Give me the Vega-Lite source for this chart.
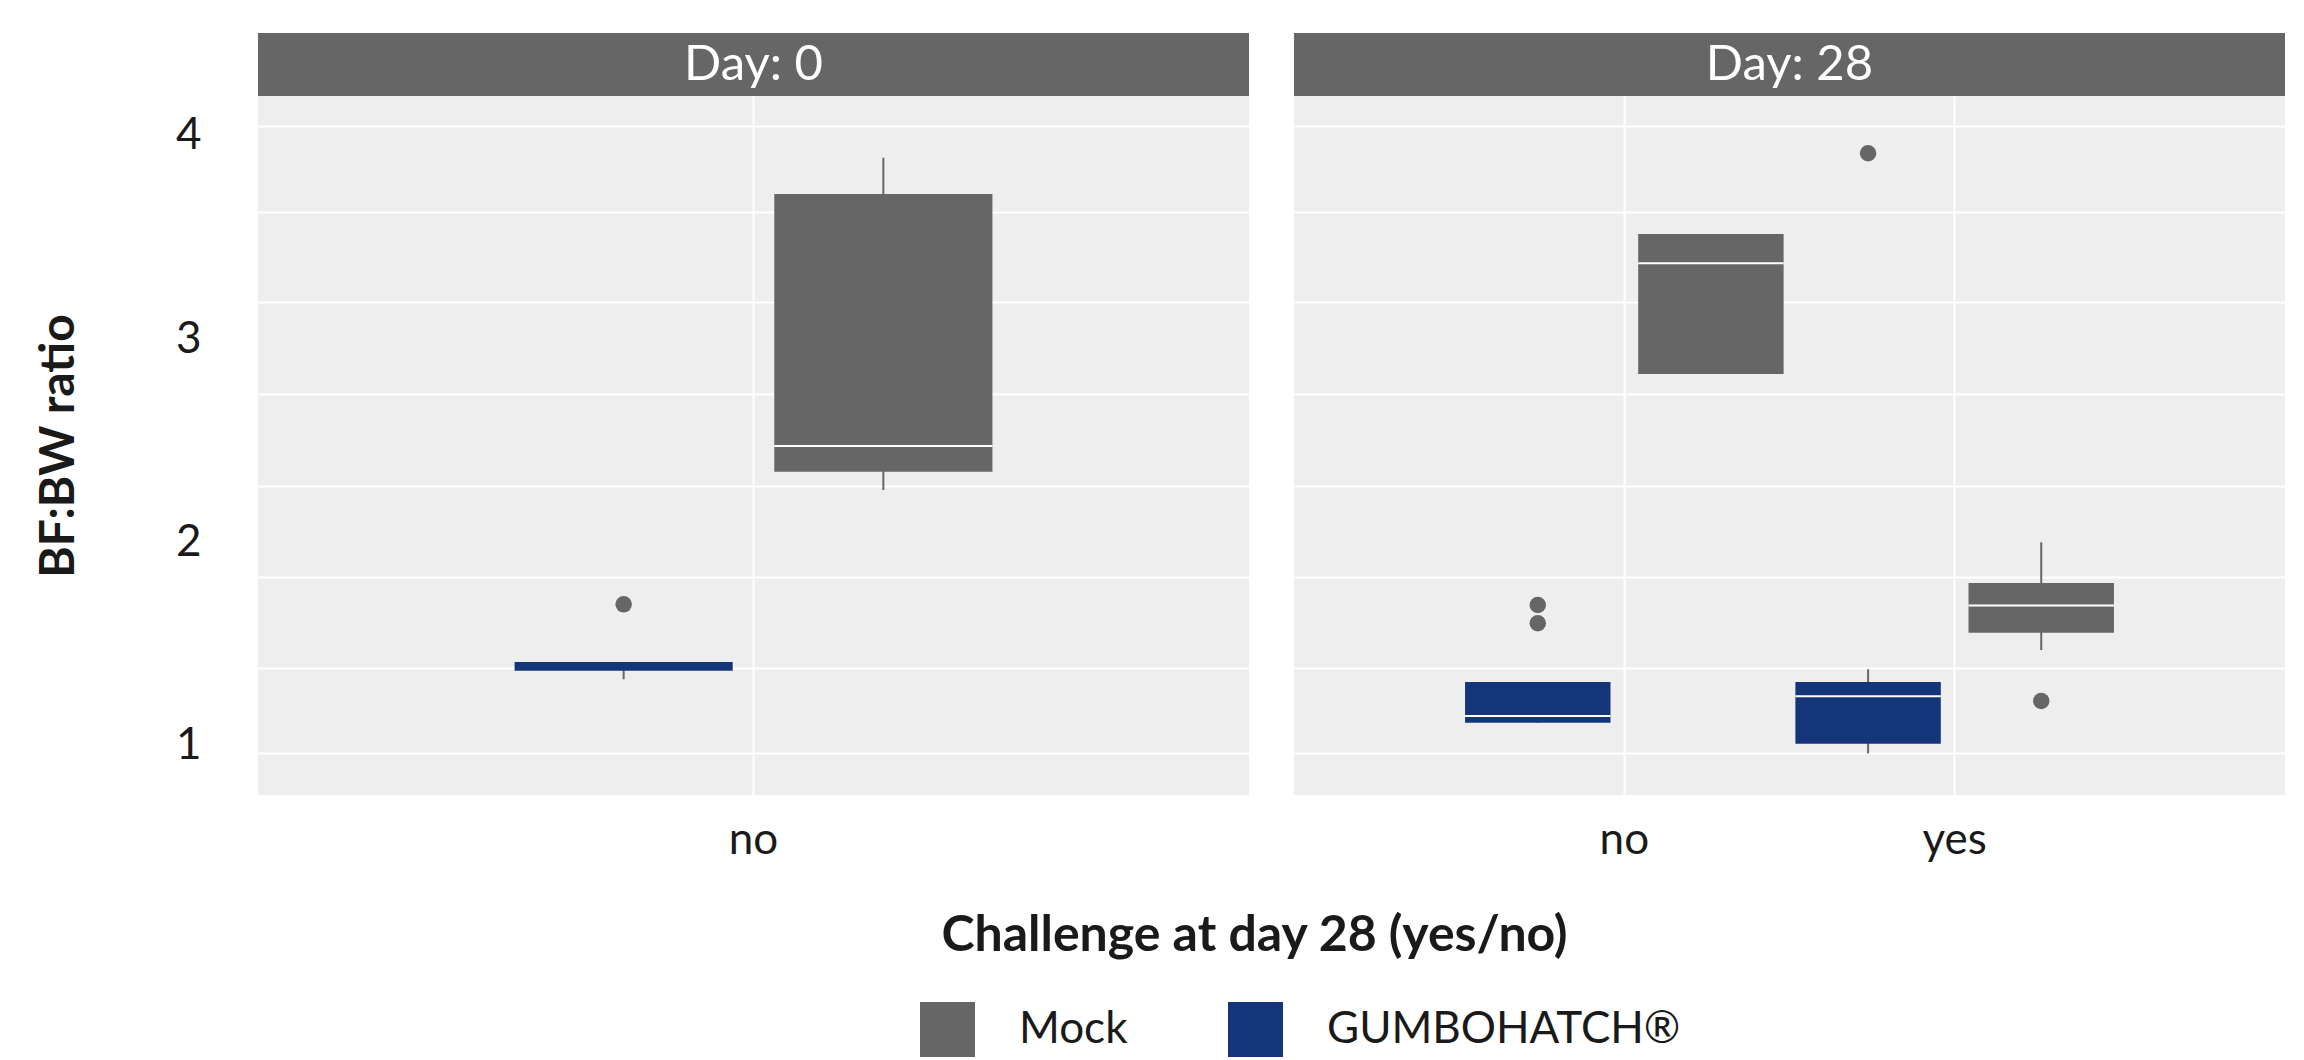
{
  "$schema": "https://vega.github.io/schema/vega-lite/v6.json",
  "background": "white",
  "padding": {"left": 35, "top": 33, "right": 10, "bottom": 0},
  "config": {
    "font": "Lato",
    "view": {"fill": "#EEEEEE", "stroke": null},
    "axis": {"labelFont": "Lato", "titleFont": "Lato", "labelColor": "#1a1a1a", "titleColor": "#1a1a1a"},
    "legend": {"labelFont": "Lato"}
  },
  "datasets": {
    "strips": [{"Day": "Day: 0"}, {"Day": "Day: 28"}],
    "boxes": [
      {"Day": "Day: 0", "chal": "no", "group": "GUMBOHATCH®", "lower": 1.324, "q1": 1.366, "median": null, "q3": 1.409, "upper": 1.409},
      {"Day": "Day: 0", "chal": "no", "group": "Mock", "lower": 2.256, "q1": 2.346, "median": 2.473, "q3": 3.714, "upper": 3.893},
      {"Day": "Day: 28", "chal": "no", "group": "GUMBOHATCH®", "lower": 1.11, "q1": 1.11, "median": 1.143, "q3": 1.31, "upper": 1.31},
      {"Day": "Day: 28", "chal": "no", "group": "Mock", "lower": 2.828, "q1": 2.828, "median": 3.373, "q3": 3.517, "upper": 3.517},
      {"Day": "Day: 28", "chal": "yes", "group": "GUMBOHATCH®", "lower": 0.959, "q1": 1.006, "median": 1.241, "q3": 1.31, "upper": 1.373},
      {"Day": "Day: 28", "chal": "yes", "group": "Mock", "lower": 1.468, "q1": 1.553, "median": 1.688, "q3": 1.798, "upper": 1.999}
    ],
    "outliers": [
      {"Day": "Day: 0", "chal": "no", "group": "GUMBOHATCH®", "value": 1.693},
      {"Day": "Day: 28", "chal": "no", "group": "GUMBOHATCH®", "value": 1.69},
      {"Day": "Day: 28", "chal": "no", "group": "GUMBOHATCH®", "value": 1.6},
      {"Day": "Day: 28", "chal": "yes", "group": "GUMBOHATCH®", "value": 3.915},
      {"Day": "Day: 28", "chal": "yes", "group": "Mock", "value": 1.217}
    ]
  },
  "spacing": 0,
  "vconcat": [
    {
      "bounds": "flush",
      "spacing": 45,
      "hconcat": [
        {
          "width": 991, "height": 63,
          "view": {"fill": "#666666", "stroke": null},
          "data": {"name": "strips"},
          "transform": [{"filter": "datum.Day === 'Day: 0'"}],
          "mark": {"type": "text", "color": "white", "fontSize": 49, "font": "Lato", "baseline": "middle", "align": "center"},
          "encoding": {"text": {"field": "Day", "type": "nominal"}}
        },
        {
          "width": 991, "height": 63,
          "view": {"fill": "#666666", "stroke": null},
          "data": {"name": "strips"},
          "transform": [{"filter": "datum.Day === 'Day: 28'"}],
          "mark": {"type": "text", "color": "white", "fontSize": 49, "font": "Lato", "baseline": "middle", "align": "center"},
          "encoding": {"text": {"field": "Day", "type": "nominal"}}
        }
      ]
    },
    {
      "bounds": "flush",
      "spacing": 45,
      "resolve": {"scale": {"x": "independent", "xOffset": "independent"}},
      "hconcat": [
        {
          "width": 991, "height": 699,
          "data": {"name": "boxes"},
          "transform": [{"filter": "datum.Day === 'Day: 0'"}],
          "resolve": {"axis": {"y": "independent"}},
          "layer": [
            {
              "mark": {"type": "rule", "color": "#666666", "strokeWidth": 2},
              "encoding": {
                "x": {"field": "chal", "type": "nominal", "scale": {"domain": ["no"], "paddingInner": 0, "paddingOuter": 0.5},
                  "axis": {"title": "Challenge at day 28 (yes/no)", "titleFontSize": 50, "titleFontWeight": "bold", "titleX": 996, "titleY": 155, "titleBaseline": "alphabetic", "titleAlign": "center", "labelFontSize": 44, "labelPadding": 23, "labelAngle": 0, "ticks": false, "tickSize": 0, "domain": false, "grid": true, "gridColor": "white", "gridWidth": 2}},
                "xOffset": {"field": "group", "type": "nominal", "scale": {"domain": ["GUMBOHATCH®", "Mock"], "paddingInner": 0.16, "paddingOuter": 0.034}},
                "y": {"field": "lower", "type": "quantitative", "scale": {"domain": [0.754, 4.197], "nice": false, "zero": false},
                  "axis": {"orient": "left", "values": [1, 2, 3, 4], "grid": false, "ticks": false, "tickSize": 0, "domain": false, "labelFontSize": 44, "labelPadding": 57, "title": "BF:BW ratio", "titleFontSize": 48, "titleFontWeight": "bold", "titlePadding": 92}},
                "y2": {"field": "upper"}
              }
            },
            {
              "mark": {"type": "bar"},
              "encoding": {
                "x": {"field": "chal", "type": "nominal", "scale": {"domain": ["no"], "paddingInner": 0, "paddingOuter": 0.5}},
                "xOffset": {"field": "group", "type": "nominal", "scale": {"domain": ["GUMBOHATCH®", "Mock"], "paddingInner": 0.16, "paddingOuter": 0.034}},
                "y": {"field": "q1", "type": "quantitative", "scale": {"domain": [0.754, 4.197], "nice": false, "zero": false}, "axis": null},
                "y2": {"field": "q3"},
                "color": {"field": "group", "type": "nominal", "scale": {"domain": ["Mock", "GUMBOHATCH®"], "range": ["#666666", "#15357a"]},
                  "legend": {"orient": "none", "legendX": 662, "legendY": 969, "direction": "horizontal", "title": null, "symbolType": "square", "symbolSize": 3025, "symbolStrokeWidth": 0, "symbolOpacity": 1, "labelFontSize": 44, "labelOffset": 44, "labelLimit": 0, "columnPadding": 100, "padding": 0, "labelColor": "#1a1a1a"}}
              }
            },
            {
              "mark": {"type": "bar", "fillOpacity": 0, "stroke": "white", "strokeWidth": 2},
              "encoding": {
                "x": {"field": "chal", "type": "nominal", "scale": {"domain": ["no"], "paddingInner": 0, "paddingOuter": 0.5}},
                "xOffset": {"field": "group", "type": "nominal", "scale": {"domain": ["GUMBOHATCH®", "Mock"], "paddingInner": 0.16, "paddingOuter": 0.034}},
                "y": {"field": "median", "type": "quantitative", "scale": {"domain": [0.754, 4.197], "nice": false, "zero": false}, "axis": null},
                "y2": {"field": "median"}
              }
            },
            {
              "data": {"name": "outliers"},
              "transform": [{"filter": "datum.Day === 'Day: 0'"}],
              "mark": {"type": "point", "filled": true, "color": "#666666", "size": 272, "opacity": 1},
              "encoding": {
                "x": {"field": "chal", "type": "nominal", "scale": {"domain": ["no"], "paddingInner": 0, "paddingOuter": 0.5}},
                "xOffset": {"field": "group", "type": "nominal", "scale": {"domain": ["GUMBOHATCH®", "Mock"], "paddingInner": 0.16, "paddingOuter": 0.034}},
                "y": {"field": "value", "type": "quantitative", "scale": {"domain": [0.754, 4.197], "nice": false, "zero": false},
                  "axis": {"orient": "right", "values": [0.962, 1.378, 1.829, 2.278, 2.729, 3.181, 3.627, 4.049], "grid": true, "gridColor": "white", "gridWidth": 2, "labels": false, "ticks": false, "tickSize": 0, "domain": false, "title": null}}
              }
            }
          ]
        },
        {
          "width": 991, "height": 699,
          "data": {"name": "boxes"},
          "transform": [{"filter": "datum.Day === 'Day: 28'"}],
          "resolve": {"axis": {"y": "independent"}},
          "layer": [
            {
              "mark": {"type": "rule", "color": "#666666", "strokeWidth": 2},
              "encoding": {
                "x": {"field": "chal", "type": "nominal", "scale": {"domain": ["no", "yes"], "paddingInner": 0, "paddingOuter": 0.5},
                  "axis": {"title": null, "labelFontSize": 44, "labelPadding": 23, "labelAngle": 0, "ticks": false, "tickSize": 0, "domain": false, "grid": true, "gridColor": "white", "gridWidth": 2}},
                "xOffset": {"field": "group", "type": "nominal", "scale": {"domain": ["GUMBOHATCH®", "Mock"], "paddingInner": 0.16, "paddingOuter": 0.034}},
                "y": {"field": "lower", "type": "quantitative", "scale": {"domain": [0.754, 4.197], "nice": false, "zero": false}, "axis": null},
                "y2": {"field": "upper"}
              }
            },
            {
              "mark": {"type": "bar"},
              "encoding": {
                "x": {"field": "chal", "type": "nominal", "scale": {"domain": ["no", "yes"], "paddingInner": 0, "paddingOuter": 0.5}},
                "xOffset": {"field": "group", "type": "nominal", "scale": {"domain": ["GUMBOHATCH®", "Mock"], "paddingInner": 0.16, "paddingOuter": 0.034}},
                "y": {"field": "q1", "type": "quantitative", "scale": {"domain": [0.754, 4.197], "nice": false, "zero": false}, "axis": null},
                "y2": {"field": "q3"},
                "color": {"field": "group", "type": "nominal", "scale": {"domain": ["Mock", "GUMBOHATCH®"], "range": ["#666666", "#15357a"]},
                  "legend": {"orient": "none", "legendX": 662, "legendY": 969, "direction": "horizontal", "title": null, "symbolType": "square", "symbolSize": 3025, "symbolStrokeWidth": 0, "symbolOpacity": 1, "labelFontSize": 44, "labelOffset": 44, "labelLimit": 0, "columnPadding": 100, "padding": 0, "labelColor": "#1a1a1a"}}
              }
            },
            {
              "mark": {"type": "bar", "fillOpacity": 0, "stroke": "white", "strokeWidth": 2},
              "encoding": {
                "x": {"field": "chal", "type": "nominal", "scale": {"domain": ["no", "yes"], "paddingInner": 0, "paddingOuter": 0.5}},
                "xOffset": {"field": "group", "type": "nominal", "scale": {"domain": ["GUMBOHATCH®", "Mock"], "paddingInner": 0.16, "paddingOuter": 0.034}},
                "y": {"field": "median", "type": "quantitative", "scale": {"domain": [0.754, 4.197], "nice": false, "zero": false}, "axis": null},
                "y2": {"field": "median"}
              }
            },
            {
              "data": {"name": "outliers"},
              "transform": [{"filter": "datum.Day === 'Day: 28'"}],
              "mark": {"type": "point", "filled": true, "color": "#666666", "size": 272, "opacity": 1},
              "encoding": {
                "x": {"field": "chal", "type": "nominal", "scale": {"domain": ["no", "yes"], "paddingInner": 0, "paddingOuter": 0.5}},
                "xOffset": {"field": "group", "type": "nominal", "scale": {"domain": ["GUMBOHATCH®", "Mock"], "paddingInner": 0.16, "paddingOuter": 0.034}},
                "y": {"field": "value", "type": "quantitative", "scale": {"domain": [0.754, 4.197], "nice": false, "zero": false},
                  "axis": {"orient": "right", "values": [0.962, 1.378, 1.829, 2.278, 2.729, 3.181, 3.627, 4.049], "grid": true, "gridColor": "white", "gridWidth": 2, "labels": false, "ticks": false, "tickSize": 0, "domain": false, "title": null}}
              }
            }
          ]
        }
      ]
    }
  ]
}
